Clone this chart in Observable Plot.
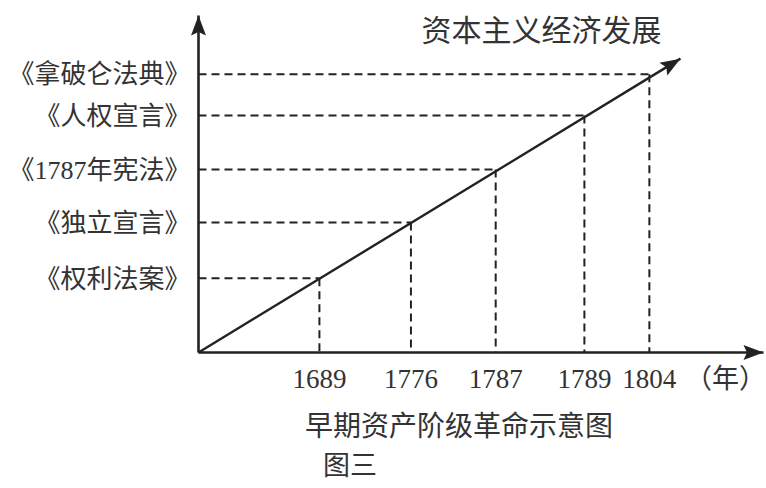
<!DOCTYPE html>
<html>
<head>
<meta charset="utf-8">
<script src="https://cdn.jsdelivr.net/npm/d3@7"></script>
<script src="https://cdn.jsdelivr.net/npm/@observablehq/plot@0.6"></script>
<style>
  html, body { margin: 0; padding: 0; background: #fff; }
  body { width: 766px; height: 488px; overflow: hidden; font-family: "Liberation Serif", "Noto Sans CJK SC", serif; color: #333; }
  #chart svg { display: block; }
  .cap { white-space: nowrap; }
  #cap1 { font-size: 28px; line-height: 36px; margin-top: 9px; padding-left: 305px; }
  #cap2 { font-size: 27px; line-height: 36px; margin-top: 3px; padding-left: 323px; }
</style>
</head>
<body>
<div id="chart"></div>
<div id="cap1" class="cap"></div>
<div id="cap2" class="cap"></div>
<script>
// ---- data ----
const events = ["《权利法案》", "《独立宣言》", "《1787年宪法》", "《人权宣言》", "《拿破仑法典》"];
const years = [1689, 1776, 1787, 1789, 1804];
// schematic position of each event along the time axis (0–100)
const stage = [21.4, 37.6, 52.6, 68.3, 79.8];
// level of capitalist economic development (0–100)
const level = [22.0, 38.6, 54.3, 70.3, 82.6];
const trendEnd = { x: 85.3, y: 87.2 };
const axisEnd = { x: 100, y: 100 };
const trendLabel = "资本主义经济发展";
const yearUnit = "（年）";
const captionMain = "早期资产阶级革命示意图";
const captionSub = "图三";

// ---- layout ----
const W = 766, H = 400;
const mL = 198, mR = 3, mT = 15, mB = 48;

const rows = events.map((name, i) => ({ name, year: years[i], stage: stage[i], level: level[i] }));

// angle of the trend arrow in pixel space
const pxX = trendEnd.x / 100 * (W - mL - mR);
const pxY = trendEnd.y / 100 * (H - mT - mB);
const trendRot = 90 - Math.atan2(pxY, pxX) * 180 / Math.PI;

const heads = [
  { x: axisEnd.x, y: 0, rot: 90 },
  { x: 0, y: axisEnd.y, rot: 0 },
  { x: trendEnd.x, y: trendEnd.y, rot: trendRot }
];

// filled arrowhead, tip at origin, pointing up
const arrowHead = {
  draw(ctx) {
    ctx.moveTo(0, 0);
    ctx.lineTo(7.5, 20);
    ctx.lineTo(0, 16.5);
    ctx.lineTo(-7.5, 20);
    ctx.closePath();
  }
};

const ink = "#222";
const textInk = "#333";
const serif = "Liberation Serif, Noto Sans CJK SC, serif";

const chart = Plot.plot({
  width: W,
  height: H,
  marginLeft: mL,
  marginRight: mR,
  marginTop: mT,
  marginBottom: mB,
  x: { domain: [0, 100], axis: null },
  y: { domain: [0, 100], axis: null },
  style: { background: "#fff", overflow: "visible" },
  marks: [
    // dashed guides
    Plot.link(rows, { x1: 0, y1: "level", x2: "stage", y2: "level", stroke: ink, strokeWidth: 2, strokeDasharray: "8,5" }),
    Plot.link(rows, { x1: "stage", y1: "level", x2: "stage", y2: 0, stroke: ink, strokeWidth: 2, strokeDasharray: "8,5" }),
    // axes
    Plot.link([{ x1: 0, y1: 0, x2: axisEnd.x, y2: 0 }, { x1: 0, y1: 0, x2: 0, y2: axisEnd.y }],
      { x1: "x1", y1: "y1", x2: "x2", y2: "y2", stroke: ink, strokeWidth: 2.6 }),
    // trend line
    Plot.link([{ x1: 0, y1: 0, x2: trendEnd.x, y2: trendEnd.y }],
      { x1: "x1", y1: "y1", x2: "x2", y2: "y2", stroke: ink, strokeWidth: 2.4 }),
    // arrow heads
    Plot.dot(heads, { x: "x", y: "y", rotate: "rot", symbol: arrowHead, fill: ink, stroke: "none" }),
    // event labels (left)
    Plot.text(rows, { x: 0, y: "level", text: "name", textAnchor: "end", dx: -8, dy: 1, fontSize: 26, fontFamily: serif, fill: textInk }),
    // year labels
    Plot.text(rows, { x: "stage", y: 0, text: d => String(d.year), dy: 27, fontSize: 27, fontFamily: serif, fill: textInk }),
    Plot.text([yearUnit], { x: axisEnd.x, y: 0, text: d => d, textAnchor: "middle", dx: -38, dy: 27, fontSize: 27, fontFamily: serif, fill: textInk }),
    // trend label
    Plot.text([trendLabel], { x: trendEnd.x, y: trendEnd.y, text: d => d, dx: -139, dy: -27, fontSize: 30, fontFamily: serif, fill: textInk })
  ]
});

document.getElementById("chart").append(chart);
document.getElementById("cap1").textContent = captionMain;
document.getElementById("cap2").textContent = captionSub;
</script>
</body>
</html>
